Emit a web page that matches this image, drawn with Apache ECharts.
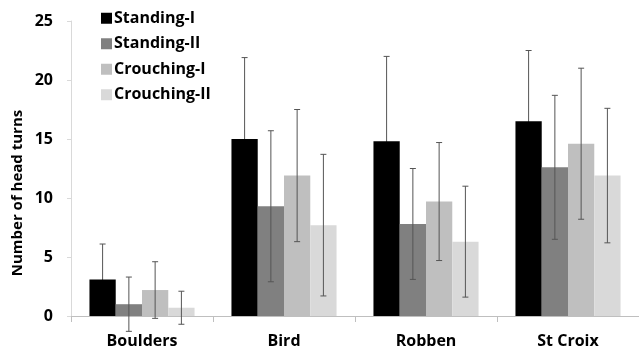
<!DOCTYPE html>
<html><head><meta charset="utf-8">
<script src="https://cdn.jsdelivr.net/npm/echarts@6/dist/echarts.min.js"></script>
<style>html,body{margin:0;padding:0;background:#fff}#c{width:639px;height:354px}</style>
</head><body><div id="c"></div>
<script>
const categories = ['Boulders', 'Bird', 'Robben', 'St Croix'];
const seriesNames = ['Standing-I', 'Standing-II', 'Crouching-I', 'Crouching-II'];
const standingI = [3.1, 15.0, 14.8, 16.5];
const standingII = [1.0, 9.3, 7.8, 12.6];
const crouchingI = [2.2, 11.9, 9.7, 14.6];
const crouchingII = [0.7, 7.7, 6.3, 11.9];
const errStandingI = [3.0, 6.9, 7.2, 6.0];
const errStandingII = [2.3, 6.4, 4.7, 6.1];
const errCrouchingI = [2.4, 5.6, 5.0, 6.4];
const errCrouchingII = [1.4, 6.0, 4.7, 5.7];
const yTicks = [0, 5, 10, 15, 20, 25];
const yAxisTitle = 'Number of head turns';

const values = [standingI, standingII, crouchingI, crouchingII];
const errors = [errStandingI, errStandingII, errCrouchingI, errCrouchingII];
const colors = ['#000000', '#808080', '#bfbfbf', '#d9d9d9'];
const FONT = '"Open Sans"';
const GAP = 0.26;

const chart = echarts.init(document.getElementById('c'), null, {renderer: 'canvas'});
const series = [];
values.forEach((v, i) => {
  series.push({
    name: seriesNames[i], type: 'bar', data: v,
    barGap: '0%', barCategoryGap: (GAP * 100) + '%',
    itemStyle: {color: colors[i]}, z: 2
  });
});
values.forEach((v, i) => {
  const data = v.map((val, j) => [j, val - errors[i][j], val + errors[i][j]]);
  series.push({
    type: 'custom', data: data, z: i === 0 ? 1 : 5, silent: true,
    renderItem: function (params, api) {
      const cat = api.value(0);
      const bw = api.size([1, 0])[0] * (1 - GAP) / 4;
      const lo = api.coord([cat, api.value(1)]);
      const hi = api.coord([cat, api.value(2)]);
      const x = lo[0] + (i - 1.5) * bw;
      const cap = 3;
      const st = {stroke: '#555555', lineWidth: 1};
      return {type: 'group', children: [
        {type: 'line', shape: {x1: x, y1: lo[1], x2: x, y2: hi[1]}, style: st},
        {type: 'line', shape: {x1: x - cap, y1: lo[1], x2: x + cap, y2: lo[1]}, style: st},
        {type: 'line', shape: {x1: x - cap, y1: hi[1], x2: x + cap, y2: hi[1]}, style: st}
      ]};
    }
  });
});

chart.setOption({
  animation: false,
  grid: {left: 71, top: 21, width: 576, height: 295},
  legend: {
    data: seriesNames, orient: 'vertical', left: 96, top: 3,
    itemWidth: 11, itemHeight: 11, itemGap: 5, icon: 'rect',
    textStyle: {fontFamily: FONT, fontWeight: 'bold', fontSize: 16, color: '#000', lineHeight: 20.5, padding: [0,0,0,-3]}
  },
  graphic: [{
    type: 'text', x: 18, y: 193, rotation: Math.PI / 2,
    style: {text: yAxisTitle, fontFamily: FONT, fontWeight: 'bold', fontSize: 15, fill: '#000',
      align: 'center', verticalAlign: 'middle'}
  }],
  xAxis: {
    type: 'category', data: categories,
    axisLine: {lineStyle: {color: '#bfbfbf'}},
    axisTick: {show: true, alignWithLabel: false, length: 6, lineStyle: {color: '#bfbfbf'}},
    axisLabel: {fontFamily: FONT, fontWeight: 'bold', fontSize: 16, color: '#000', margin: 17}
  },
  yAxis: {
    type: 'value', min: 0, max: 25, interval: 5,
    axisLine: {show: true, lineStyle: {color: '#d9d9d9'}},
    axisTick: {show: true, length: 4, lineStyle: {color: '#d9d9d9'}},
    splitLine: {show: false},
    axisLabel: {fontFamily: FONT, fontWeight: 'bold', fontSize: 16, color: '#000', margin: 18,
      formatter: function (v) { return yTicks.indexOf(v) >= 0 ? String(v) : ''; }}
  },
  series: series
});
</script></body></html>
